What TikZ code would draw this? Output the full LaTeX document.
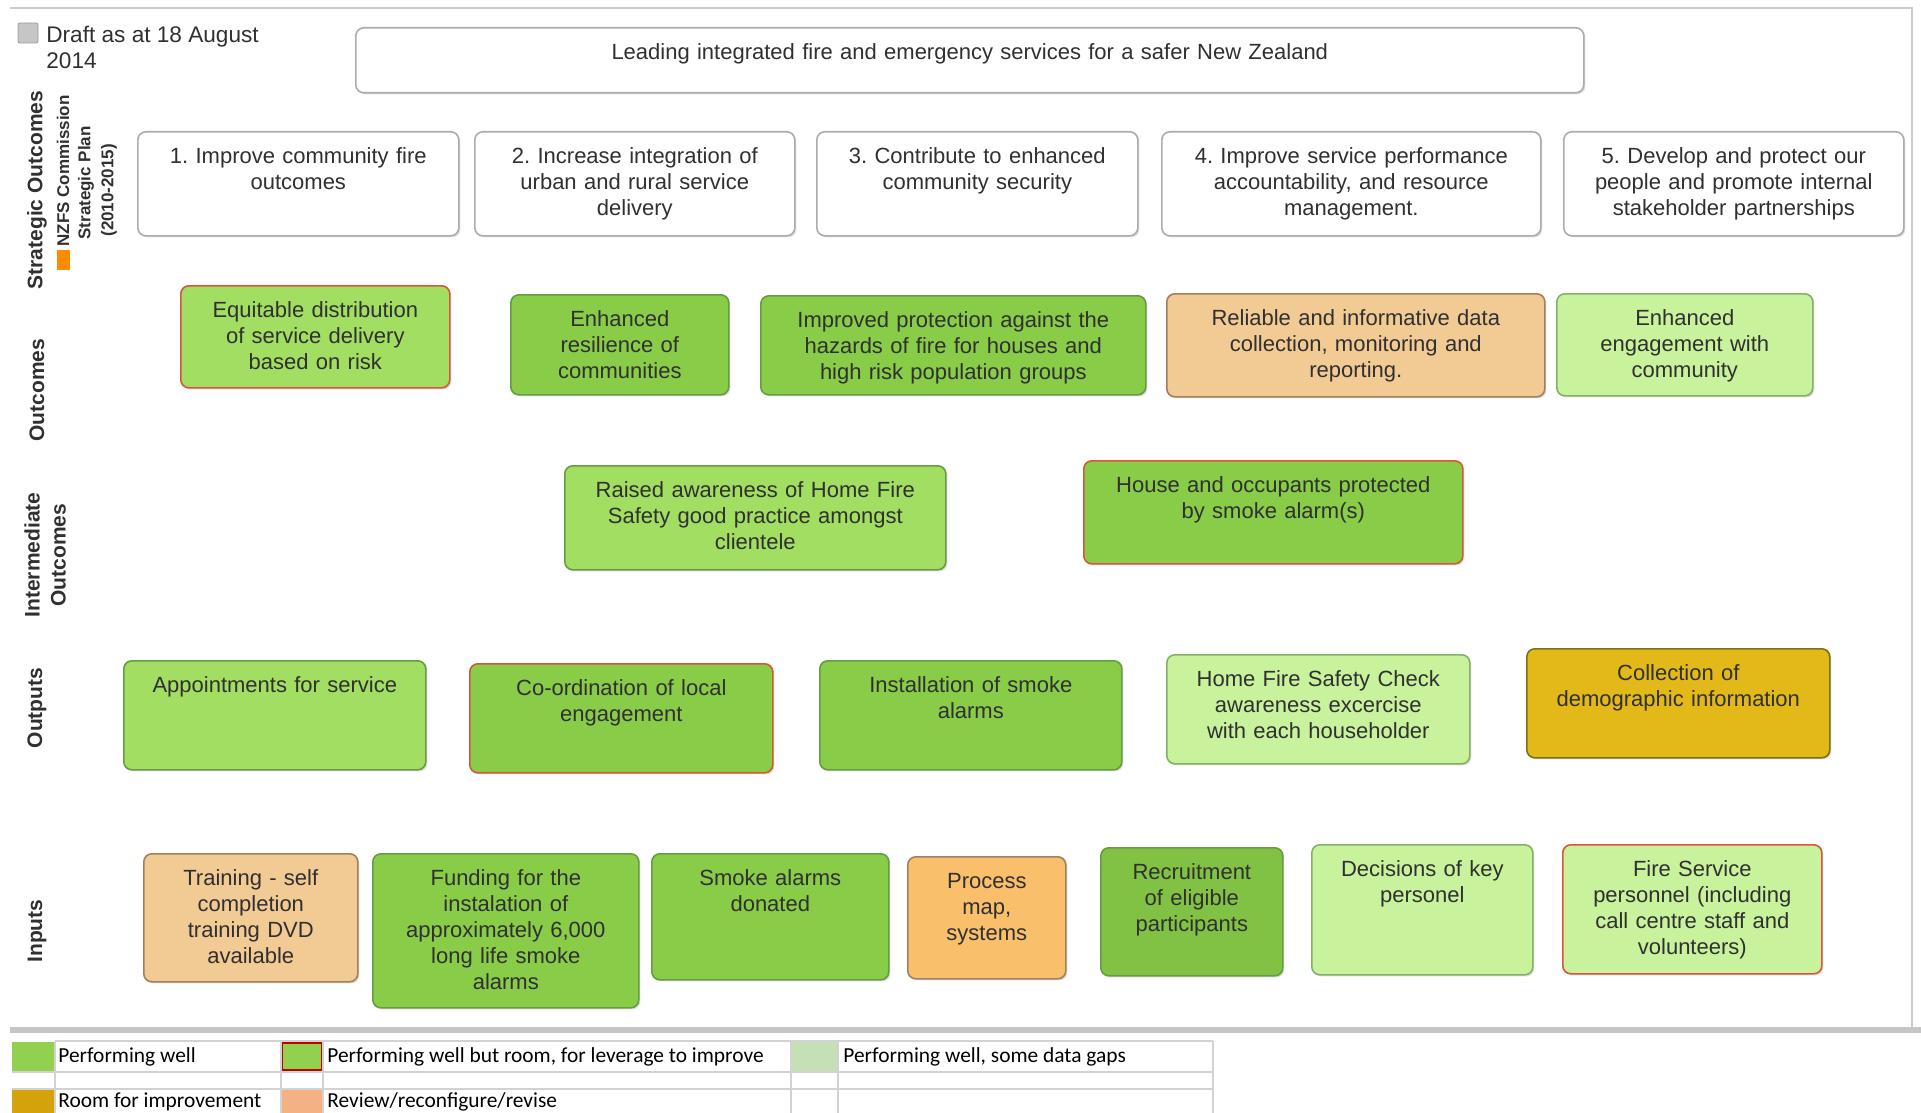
\documentclass[tikz,border=0pt]{standalone}
\usepackage{fontspec}
\setmainfont{Liberation Sans}
\newfontfamily\legendfont{Carlito}
\usetikzlibrary{shadows}

\definecolor{txtgray}{HTML}{303030}
\definecolor{lgreen}{HTML}{A2DE62}
\definecolor{mgreen}{HTML}{88CC48}
\definecolor{pgreen}{HTML}{C8F29C}
\definecolor{tanfill}{HTML}{F2CA94}
\definecolor{orngfill}{HTML}{F9BF6B}
\definecolor{goldfill}{HTML}{E3B819}
\definecolor{gline}{HTML}{669C42}
\definecolor{rline}{HTML}{D6573A}
\definecolor{keygreen}{HTML}{92D050}
\definecolor{keypale}{HTML}{C5E0B4}
\definecolor{keygold}{HTML}{D4A20A}
\definecolor{keysalmon}{HTML}{F4B183}

\begin{document}
\begin{tikzpicture}[x=0.5pt,y=-0.5pt,
    every node/.style={inner sep=0pt},
    sz/.code 2 args={%
      \pgfmathsetmacro\boxw{(#1)*0.5}%
      \pgfmathsetmacro\boxh{(#2)*0.5}%
      \pgfmathsetmacro\boxtw{(#1)*0.5-10}%
      \pgfmathsetmacro\boxtd{(#2)*0.5-24}%
      \pgfkeysalso{minimum width=\boxw pt, minimum height=\boxh pt,
        text width=\boxtw pt, text depth=\boxtd pt}},
    box/.style={draw, rounded corners=4pt, line width=0.8pt, align=center,
      anchor=north west, inner xsep=5pt, inner ysep=7pt, text=txtgray,
      font=\frenchspacing\fontsize{11}{13}\selectfont,
      drop shadow={shadow xshift=0.8pt, shadow yshift=-0.8pt, opacity=0.25}},
    plain/.style={box, draw=gray!65, fill=white},
    well/.style={box, draw=gline, fill=mgreen},
    welllight/.style={box, draw=gline, fill=lgreen},
    gaps/.style={box, draw=gline!80, fill=pgreen},
    lever/.style={draw=rline},
    review/.style={box, draw=brown!55!gray, fill=tanfill},
    revorng/.style={box, draw=brown!50!gray, fill=orngfill},
    roomimp/.style={box, draw=olive!80!black, fill=goldfill},
    rowlabel/.style={rotate=90, font=\fontsize{10.5}{13}\bfseries\selectfont, text=txtgray},
    planlabel/.style={rotate=90, anchor=west, font=\fontsize{8.5}{10}\bfseries\selectfont, text=txtgray},
    legline/.style={draw=gray!35, line width=0.6pt},
    legtext/.style={anchor=west, font=\legendfont\fontsize{10.7}{12}\selectfont, text=black}]

\useasboundingbox (0,0) rectangle (1921,1113);

% frame
\draw[gray!40, line width=1pt] (10,8) -- (1912,8) -- (1912,1030);
\draw[gray!45, line width=3pt] (10,1030) -- (1921,1030);

% draft note
\node[draw=gray!80, fill=gray!45, minimum size=10pt, rounded corners=1pt] (tick) at (28,33) {};
\node[anchor=north west, align=left, font=\fontsize{11.3}{13}\selectfont, text=txtgray] (draft) at (46,26) {Draft as at 18 August\\2014};

% row labels
\node[rowlabel] (lstrat) at (37,190) {Strategic Outcomes};
\node[planlabel] (lnzfs) at (63,247) {NZFS Commission};
\fill[orange!90!yellow] (57,250) rectangle (70,270);
\node[planlabel] (lplan) at (86,240) {Strategic Plan};
\node[planlabel] (lyears) at (109,237) {(2010-2015)};
\node[rowlabel] (lout) at (37,390) {Outcomes};
\node[rowlabel, align=center] (linter) at (45,555) {Intermediate\\Outcomes};
\node[rowlabel] (loutp) at (37,708) {Outputs};
\node[rowlabel] (linp) at (37,931) {Inputs};

% strategic outcomes
\node[plain, sz={1583-355}{92-27}] (vision) at (355,27) {Leading integrated fire and emergency services for a safer New Zealand};
\node[plain, sz={458-137}{235-131}] (s1) at (137,131) {1. Improve community fire\\outcomes};
\node[plain, sz={794-474}{235-131}] (s2) at (474,131) {2. Increase integration of\\urban and rural service\\delivery};
\node[plain, sz={1137-816}{235-131}] (s3) at (816,131) {3. Contribute to enhanced\\community security};
\node[plain, sz={1540-1161}{235-131}] (s4) at (1161,131) {4. Improve service performance\\accountability, and resource\\management.};
\node[plain, sz={1903-1563}{235-131}] (s5) at (1563,131) {5. Develop and protect our\\people and promote internal\\stakeholder partnerships};

% outcomes
\node[welllight, lever, sz={449-180}{387-285}] (o1) at (180,285) {Equitable distribution\\of service delivery\\based on risk};
\node[well, sz={728-510}{394-294}] (o2) at (510,294) {Enhanced\\resilience of\\communities};
\node[well, sz={1145-760}{394-295}] (o3) at (760,295) {Improved protection against the\\hazards of fire for houses and\\high risk population groups};
\node[review, sz={1544-1166}{396-293}] (o4) at (1166,293) {Reliable and informative data\\collection, monitoring and\\reporting.};
\node[gaps, sz={1812-1556}{395-293}] (o5) at (1556,293) {Enhanced\\engagement with\\community};

% intermediate outcomes
\node[welllight, sz={945-564}{569-465}] (i1) at (564,465) {Raised awareness of Home Fire\\Safety good practice amongst\\clientele};
\node[well, lever, sz={1462-1083}{563-460}] (i2) at (1083,460) {House and occupants protected\\by smoke alarm(s)};

% outputs
\node[welllight, sz={425-123}{769-660}] (p1) at (123,660) {Appointments for service};
\node[well, lever, sz={772-469}{772-663}] (p2) at (469,663) {Co-ordination of local\\engagement};
\node[well, sz={1121-819}{769-660}] (p3) at (819,660) {Installation of smoke\\alarms};
\node[gaps, sz={1469-1166}{763-654}] (p4) at (1166,654) {Home Fire Safety Check\\awareness excercise\\with each householder};
\node[roomimp, sz={1829-1526}{757-648}] (p5) at (1526,648) {Collection of\\demographic information};

% inputs
\node[review, sz={357-143}{981-853}] (n1) at (143,853) {Training - self\\completion\\training DVD\\available};
\node[well, sz={638-372}{1007-853}] (n2) at (372,853) {Funding for the\\instalation of\\approximately 6,000\\long life smoke\\alarms};
\node[well, sz={888-651}{979-853}] (n3) at (651,853) {Smoke alarms\\donated};
\node[revorng, sz={1065-907}{978-856}] (n4) at (907,856) {Process\\map,\\systems};
\node[well, fill=mgreen!95!black, sz={1282-1100}{975-847}] (n5) at (1100,847) {Recruitment\\of eligible\\participants};
\node[gaps, sz={1532-1311}{974-844}] (n6) at (1311,844) {Decisions of key\\personel};
\node[gaps, lever, sz={1821-1562}{973-844}] (n7) at (1562,844) {Fire Service\\personnel (including\\call centre staff and\\volunteers)};

% legend
\fill[keygreen] (12,1042) rectangle (55,1071);
\fill[keygreen] (281,1042) rectangle (323,1071);
\draw[red!75!black, line width=0.8pt] (282,1043) rectangle (322,1070);
\fill[keypale] (791,1042) rectangle (838,1071);
\fill[keygold] (12,1090) rectangle (55,1113);
\fill[keysalmon] (281,1090) rectangle (323,1113);
\draw[legline] (55,1041) -- (1213,1041);
\draw[legline] (12,1072) -- (1213,1072);
\draw[legline] (12,1089) -- (1213,1089);
\foreach \xx in {55,281,323,791,838,1213}
  \draw[legline] (\xx,1041) -- (\xx,1113);
\node[legtext] (k1) at (58,1057) {Performing well};
\node[legtext] (k2) at (327,1057) {Performing well but room, for leverage to improve};
\node[legtext] (k3) at (843,1057) {Performing well, some data gaps};
\node[legtext] (k4) at (58,1102) {Room for improvement};
\node[legtext] (k5) at (327,1102) {Review/reconfigure/revise};
\end{tikzpicture}
\end{document}
